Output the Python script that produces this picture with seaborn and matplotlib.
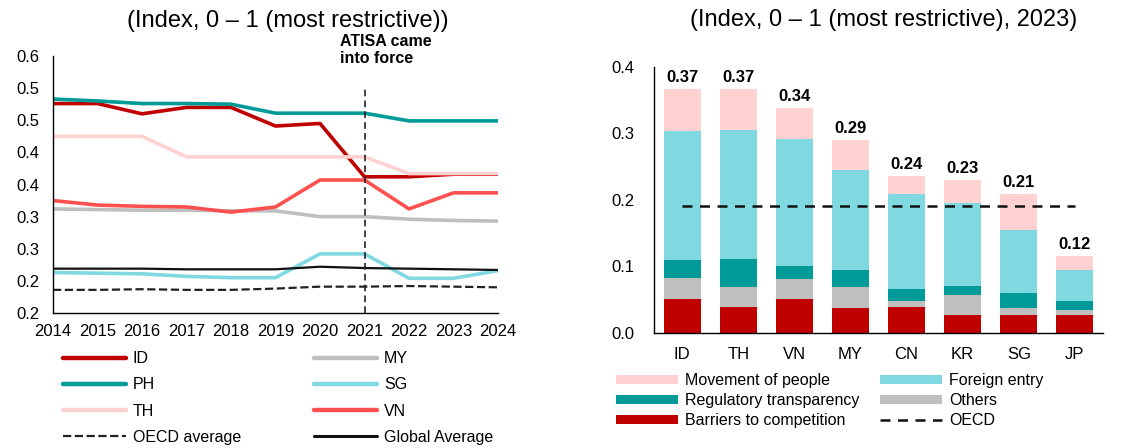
import numpy as np
import pandas as pd
import matplotlib
matplotlib.use("Agg")
import matplotlib.pyplot as plt
import seaborn as sns
from matplotlib.lines import Line2D
from matplotlib.patches import Patch

# ---------------- left panel: STRI over time ----------------
years = [2014, 2015, 2016, 2017, 2018, 2019, 2020, 2021, 2022, 2023, 2024]
id_vals = [0.476, 0.476, 0.460, 0.470, 0.470, 0.441, 0.445, 0.362, 0.362, 0.366, 0.366]
my_vals = [0.312, 0.311, 0.310, 0.310, 0.309, 0.309, 0.300, 0.300, 0.296, 0.294, 0.293]
ph_vals = [0.483, 0.480, 0.476, 0.476, 0.475, 0.461, 0.461, 0.461, 0.449, 0.449, 0.449]
sg_vals = [0.213, 0.212, 0.211, 0.207, 0.205, 0.205, 0.242, 0.242, 0.204, 0.204, 0.216]
th_vals = [0.425, 0.425, 0.425, 0.393, 0.393, 0.393, 0.393, 0.393, 0.367, 0.367, 0.367]
vn_vals = [0.325, 0.318, 0.316, 0.315, 0.307, 0.315, 0.357, 0.357, 0.312, 0.337, 0.337]
oecd_avg = [0.186, 0.186, 0.187, 0.186, 0.186, 0.188, 0.191, 0.191, 0.192, 0.191, 0.190]
global_avg = [0.219, 0.219, 0.219, 0.218, 0.218, 0.218, 0.222, 0.220, 0.219, 0.218, 0.217]

left_yticks = [0.15, 0.20, 0.25, 0.30, 0.35, 0.40, 0.45, 0.50, 0.55]
left_yticklabels = ["0.2", "0.2", "0.3", "0.3", "0.4", "0.4", "0.5", "0.5", "0.6"]
atisa_year = 2021

# ---------------- right panel: 2023 breakdown ----------------
economies = ["ID", "TH", "VN", "MY", "CN", "KR", "SG", "JP"]
barriers = [0.051, 0.039, 0.051, 0.037, 0.038, 0.027, 0.026, 0.026]
others = [0.032, 0.030, 0.030, 0.031, 0.010, 0.030, 0.011, 0.008]
regulatory = [0.027, 0.042, 0.019, 0.027, 0.017, 0.013, 0.022, 0.014]
foreign_entry = [0.194, 0.194, 0.191, 0.149, 0.143, 0.125, 0.095, 0.046]
movement = [0.062, 0.061, 0.047, 0.046, 0.028, 0.035, 0.055, 0.022]
oecd_2023 = 0.19
right_yticks = [0.0, 0.1, 0.2, 0.3, 0.4]

C_DARKRED = "#C00000"
C_TEAL = "#009B98"
C_PINK = "#FFD1D1"
C_GREY = "#BFBFBF"
C_CYAN = "#80D8E0"
C_RED = "#FF5050"

sns.set_theme(style="white")
plt.rcParams["font.family"] = ["Liberation Sans", "DejaVu Sans"]
plt.rcParams["axes.edgecolor"] = "black"
plt.rcParams["axes.linewidth"] = 1.0
plt.rcParams["text.color"] = "black"

fig = plt.figure(figsize=(11.41, 4.48), dpi=100)
ax1 = fig.add_axes([53 / 1141, 1 - 313 / 448, (498 - 53) / 1141, (313 - 56) / 448])
ax2 = fig.add_axes([654 / 1141, 1 - 332.7 / 448, (1103 - 654) / 1141, (332.7 - 66.7) / 448])

# ---- lines ----
series = [
    ("ID", id_vals, C_DARKRED, "-", 2.6),
    ("MY", my_vals, C_GREY, "-", 2.6),
    ("PH", ph_vals, C_TEAL, "-", 2.6),
    ("SG", sg_vals, C_CYAN, "-", 2.6),
    ("TH", th_vals, C_PINK, "-", 2.6),
    ("VN", vn_vals, C_RED, "-", 2.6),
    ("OECD average", oecd_avg, "#222222", "--", 1.6),
    ("Global Average", global_avg, "#111111", "-", 1.6),
]
handles = {}
for name, vals, color, ls, lw in series:
    df = pd.DataFrame({"year": years, "value": vals})
    sns.lineplot(data=df, x="year", y="value", ax=ax1, color=color,
                 linestyle=ls, linewidth=lw, legend=False)
    handles[name] = Line2D([], [], color=color, linestyle=ls, linewidth=lw + 0.6 if ls == "-" else lw)

ax1.axvline(atisa_year, ymin=0, ymax=(0.498 - 0.15) / 0.40, color="#222222",
            linestyle=(0, (4, 2.5)), linewidth=1.2)
ax1.text(2020.45, 0.535, "ATISA came\ninto force", fontsize=11.5, fontweight="bold",
         ha="left", va="bottom", linespacing=1.15, clip_on=False)

ax1.set_xlim(years[0], years[-1])
ax1.set_ylim(0.15, 0.55)
ax1.set_xticks(years)
ax1.set_xticklabels([str(y) for y in years])
ax1.set_yticks(left_yticks)
ax1.set_yticklabels(left_yticklabels)
ax1.set_xlabel("")
ax1.set_ylabel("")
ax1.tick_params(axis="both", length=0, labelsize=12, colors="black")
ax1.tick_params(axis="y", pad=10)
ax1.tick_params(axis="x", pad=8)
sns.despine(ax=ax1)

order = ["ID", "PH", "TH", "OECD average", "MY", "SG", "VN", "Global Average"]
ax1.legend([handles[k] for k in order], order, ncol=2, loc="upper left",
           bbox_to_anchor=(0.023, -0.149), frameon=False, fontsize=11.5,
           handlelength=3.9, handletextpad=0.45, columnspacing=4.6,
           labelspacing=0.70, borderaxespad=0, borderpad=0)

# ---- stacked bars, drawn as cumulative layers ----
layers = [
    ("Movement of people", movement, C_PINK),
    ("Foreign entry", foreign_entry, C_CYAN),
    ("Regulatory transparency", regulatory, C_TEAL),
    ("Others", others, C_GREY),
    ("Barriers to competition", barriers, C_DARKRED),
]
stack = np.array([barriers, others, regulatory, foreign_entry, movement])
cum = np.cumsum(stack, axis=0)  # rows: barriers, +others, +reg, +foreign, +movement
cum_by_name = {
    "Barriers to competition": cum[0],
    "Others": cum[1],
    "Regulatory transparency": cum[2],
    "Foreign entry": cum[3],
    "Movement of people": cum[4],
}
for name, _, color in layers:
    sns.barplot(x=economies, y=cum_by_name[name], color=color, saturation=1,
                width=0.66, ax=ax2, linewidth=0)

totals = cum[4]
for i, tot in enumerate(totals):
    ax2.text(i, tot + 0.006, f"{tot:.2f}", ha="center", va="bottom",
             fontsize=12, fontweight="bold")

ax2.plot([0, len(economies) - 1], [oecd_2023, oecd_2023], color="#111111",
         linestyle=(0, (4, 3)), linewidth=1.8)

ax2.set_xlim(-0.5, len(economies) - 0.5)
ax2.set_ylim(0, 0.4)
ax2.set_yticks(right_yticks)
ax2.set_yticklabels([f"{v:.1f}" for v in right_yticks])
ax2.set_xlabel("")
ax2.set_ylabel("")
ax2.tick_params(axis="both", length=0, labelsize=12, colors="black")
ax2.tick_params(axis="y", pad=14)
ax2.tick_params(axis="x", pad=10)
sns.despine(ax=ax2)

bar_handles = [
    Patch(facecolor=C_PINK, edgecolor="none"),
    Patch(facecolor=C_TEAL, edgecolor="none"),
    Patch(facecolor=C_DARKRED, edgecolor="none"),
    Patch(facecolor=C_CYAN, edgecolor="none"),
    Patch(facecolor=C_GREY, edgecolor="none"),
    Line2D([], [], color="#111111", linestyle=(0, (4, 3)), linewidth=1.8),
]
bar_labels = ["Movement of people", "Regulatory transparency", "Barriers to competition",
              "Foreign entry", "Others", "OECD"]
ax2.legend(bar_handles, bar_labels, ncol=2, loc="upper left",
           bbox_to_anchor=(-0.085, -0.151), frameon=False, fontsize=11.5,
           handlelength=3.9, handleheight=0.5, handletextpad=0.45,
           columnspacing=1.25, labelspacing=0.31, borderaxespad=0, borderpad=0)

fig.text(288 / 1141, 1 - 21 / 448, "(Index, 0 \u2013 1 (most restrictive))",
         ha="center", va="center", fontsize=17)
fig.text(884 / 1141, 1 - 20 / 448, "(Index, 0 \u2013 1 (most restrictive), 2023)",
         ha="center", va="center", fontsize=17)

fig.savefig("out.png", dpi=100, facecolor="white")
